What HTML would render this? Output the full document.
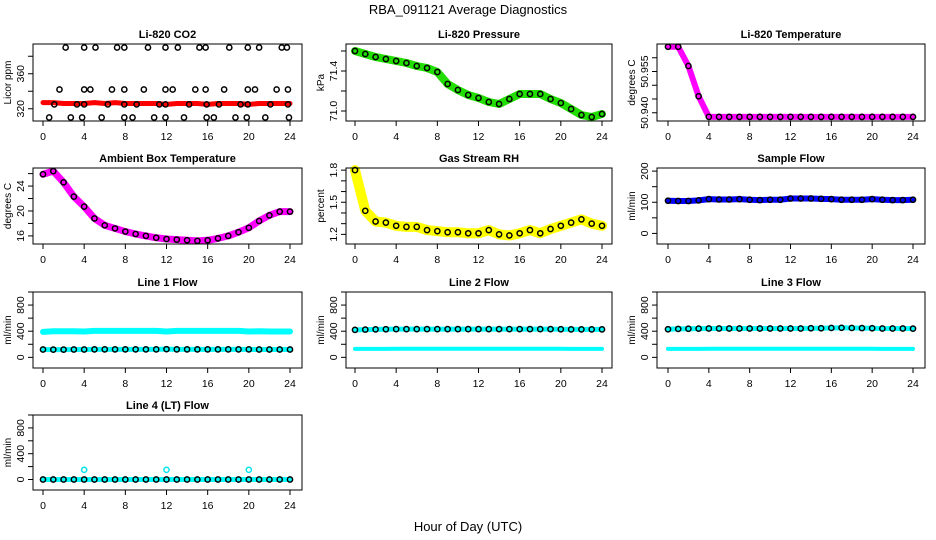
<!DOCTYPE html>
<html><head><meta charset="utf-8"><style>
body{margin:0;background:#fff;}
svg{display:block;font-family:"Liberation Sans",Arial,sans-serif;}
</style></head><body>
<svg id="chart" width="936" height="540" viewBox="0 0 936 540" xmlns="http://www.w3.org/2000/svg">
<rect width="936" height="540" fill="#fff"/>
<text x="468" y="14" text-anchor="middle" font-size="13">RBA_091121  Average Diagnostics</text>
<text x="468" y="531" text-anchor="middle" font-size="13">Hour of Day (UTC)</text>
</svg>
<script>
const hours = [0,1,2,3,4,5,6,7,8,9,10,11,12,13,14,15,16,17,18,19,20,21,22,23,24];
const xTicks = [0,4,8,12,16,20,24];
const co2Band = [327,327,326,326,326,327,326,327,326,326,326,326,325,326,326,326,325,326,326,326,325,326,326,326,326];
const co2OutT = [2.2,4.0,5.1,7.2,7.9,10.2,11.9,13.1,15.2,15.8,18.1,19.9,21.0,23.2,23.7, 1.6,4.0,4.6,6.7,7.9,9.8,11.9,12.6,14.8,15.8,17.6,19.9,20.6,22.7,23.8, 1.1,3.3,4.0,6.3,7.9,9.1,11.3,11.9,14.2,15.9,17.1,19.2,19.9,22.1,23.8, 0.6,2.7,3.8,5.7,7.9,8.7,10.8,11.9,13.7,15.9,16.6,18.7,19.8,21.6,23.9];
const co2OutV = [390,390,390,390,390,390,390,390,390,390,390,390,390,390,390, 342,342,342,342,342,342,342,342,342,342,342,342,342,342,342, 325,325,325,325,325,325,325,325,325,325,325,325,325,325,325, 310,310,310,310,310,310,310,310,310,310,310,310,310,310,310];
const pressure = [71.60,71.57,71.54,71.52,71.50,71.48,71.45,71.43,71.39,71.27,71.21,71.16,71.13,71.09,71.07,71.12,71.17,71.17,71.17,71.12,71.08,71.02,70.96,70.94,70.97];
const liTemp = [50.964,50.964,50.957,50.946,50.9385,50.9385,50.9385,50.9385,50.9385,50.9385,50.9385,50.9385,50.9385,50.9385,50.9385,50.9385,50.9385,50.9385,50.9385,50.9385,50.9385,50.9385,50.9385,50.9385,50.9385];
const ambient = [25.9,26.4,24.6,22.3,20.7,18.8,17.7,17.2,16.7,16.3,16.0,15.7,15.5,15.4,15.3,15.2,15.3,15.6,16.0,16.6,17.3,18.4,19.3,19.9,19.9];
const rh = [1.80,1.42,1.32,1.31,1.28,1.27,1.27,1.24,1.23,1.22,1.22,1.21,1.21,1.24,1.20,1.19,1.21,1.24,1.21,1.25,1.28,1.31,1.34,1.30,1.28];
const sampleFlow = [105,104,104,106,110,109,109,110,108,107,108,108,112,112,112,111,110,108,108,108,110,108,107,107,108];
const line1Hi = [390,400,400,400,395,405,405,405,405,405,405,405,395,405,405,405,405,405,405,405,395,400,395,395,395];
const line1Lo = [120,118,118,120,120,122,122,122,122,122,122,122,125,122,122,122,122,122,122,122,122,120,120,120,120];
const line2Hi = [420,425,428,430,432,432,432,432,432,432,432,432,432,432,432,432,432,432,432,432,430,428,428,428,428];
const line2Lo = [130,130,130,130,132,132,132,132,132,132,132,132,132,132,132,132,132,132,132,132,132,130,130,130,130];
const line3Hi = [430,435,438,440,442,442,442,442,442,442,442,442,442,442,445,445,450,452,450,448,445,442,442,442,440];
const line3Lo = [130,130,130,130,132,132,132,132,132,132,132,132,132,132,132,132,132,132,132,132,132,130,130,130,130];
const line4 = [0,0,0,0,0,0,0,0,0,0,0,0,0,0,0,0,0,0,0,0,0,0,0,0,0];
const line4OutT = [4,12,20];
const line4OutV = [150,150,150];

const NS = "http://www.w3.org/2000/svg";
const svg = document.getElementById('chart');
function el(tag, attrs, parent){const e=document.createElementNS(NS,tag);for(const k in attrs)e.setAttribute(k,attrs[k]);(parent||svg).appendChild(e);return e;}

const cols=[{l:33,r:302,x0:43,x1:290},{l:346,r:612,x0:355,x1:602},{l:657,r:925,x0:668,x1:913}];
const rows=[{t:44,b:121},{t:168,b:244},{t:292,b:368},{t:415,b:490}];

function panel(ci,ri,cfg){
  const c=cols[ci],r=rows[ri];
  const g=el('g',{});
  
  
  const X=t=>c.x0+(c.x1-c.x0)*t/24;
  const Y=v=>r.b-(v-cfg.ymin)/(cfg.ymax-cfg.ymin)*(r.b-r.t);
  const title=el('text',{x:(c.l+c.r)/2,y:r.t-6,'text-anchor':'middle','font-size':11,'font-weight':'bold'},g);
  title.textContent=cfg.title;
  
  
  cfg.series.forEach(s=>{
    const sg=el('g',{},g);
    
    
    const ts=s.t||hours;
    if(s.band){
      el('polyline',{points:ts.map((t,i)=>X(t)+','+Y(s.v[i])).join(' '),fill:'none',stroke:s.color,'stroke-width':s.band,'stroke-linejoin':'round','stroke-linecap':'round'},sg);
    }
    if(s.pts){
      ts.forEach((t,i)=>{
        const p=el('circle',{cx:X(t),cy:Y(s.v[i]),r:2.6,fill:'none',stroke:s.pts,'stroke-width':1.5},sg);
        
        
      });
    }
  });
  el('rect',{x:c.l,y:r.t,width:c.r-c.l,height:r.b-r.t,fill:'none',stroke:'#000','stroke-width':1},g);
  const xa=el('g',{},g);
  
  
  xTicks.forEach(t=>{
    el('line',{x1:X(t),x2:X(t),y1:r.b,y2:r.b+5,stroke:'#000'},xa);
    const tx=el('text',{x:X(t),y:r.b+19,'text-anchor':'middle','font-size':10.5},xa);
    tx.textContent=t;
  });
  const ya=el('g',{},g);
  
  
  cfg.yticks.forEach(v=>{
    el('line',{x1:c.l-5,x2:c.l,y1:Y(v),y2:Y(v),stroke:'#000'},ya);
  });
  cfg.ylabels.forEach((v,i)=>{
    const tx=el('text',{x:0,y:0,'text-anchor':'middle','font-size':10.5,transform:`translate(${c.l-9},${Y(v)}) rotate(-90)`},ya);
    tx.textContent=cfg.ylabelText[i];
  });
  const yt=el('text',{x:0,y:0,'text-anchor':'middle','font-size':10,transform:`translate(${c.l-22},${(r.t+r.b)/2}) rotate(-90)`},g);
  yt.textContent=cfg.ylab;
  
  
}

const flowTicks=[0,200,400,600,800,1000];
panel(0,0,{name:'co2',title:'Li-820 CO2',ylab:'Licor ppm',ymin:306,ymax:394,yticks:[320,340,360,380],ylabels:[320,360],ylabelText:['320','360'],
  series:[{name:'co2-band',v:co2Band,color:'#ff0000',band:5},{name:'co2-outliers',t:co2OutT,v:co2OutV,pts:'#000'}]});
panel(1,0,{name:'pressure',title:'Li-820 Pressure',ylab:'kPa',ymin:70.9,ymax:71.67,yticks:[71.0,71.2,71.4,71.6],ylabels:[71.0,71.4],ylabelText:['71.0','71.4'],
  series:[{name:'pressure-series',v:pressure,color:'#22dd00',band:8,pts:'#000'}]});
panel(2,0,{name:'li-temp',title:'Li-820 Temperature',ylab:'degrees C',ymin:50.937,ymax:50.965,yticks:[50.940,50.945,50.950,50.955,50.960],ylabels:[50.940,50.955],ylabelText:['50.940','50.955'],
  series:[{name:'li-temp-series',v:liTemp,color:'#ff00ff',band:6,pts:'#000'}]});
panel(0,1,{name:'ambient',title:'Ambient Box Temperature',ylab:'degrees C',ymin:14.7,ymax:26.9,yticks:[16,18,20,22,24,26],ylabels:[16,20,24],ylabelText:['16','20','24'],
  series:[{name:'ambient-series',v:ambient,color:'#ff00ff',band:7,pts:'#000'}]});
panel(1,1,{name:'rh',title:'Gas Stream RH',ylab:'percent',ymin:1.11,ymax:1.82,yticks:[1.2,1.3,1.4,1.5,1.6,1.7,1.8],ylabels:[1.2,1.5,1.8],ylabelText:['1.2','1.5','1.8'],
  series:[{name:'rh-series',v:rh,color:'#ffff00',band:10,pts:'#000'}]});
panel(2,1,{name:'sample-flow',title:'Sample Flow',ylab:'ml/min',ymin:-34,ymax:210,yticks:[0,50,100,150,200],ylabels:[0,100,200],ylabelText:['0','100','200'],
  series:[{name:'sample-flow-series',v:sampleFlow,color:'#0000ff',band:6,pts:'#000'}]});
panel(0,2,{name:'line1',title:'Line 1 Flow',ylab:'ml/min',ymin:-163,ymax:1000,yticks:flowTicks,ylabels:[0,400,800],ylabelText:['0','400','800'],
  series:[{name:'line1-high',v:line1Hi,color:'#00ffff',band:6},{name:'line1-low',v:line1Lo,color:'#00ffff',band:5,pts:'#000'}]});
panel(1,2,{name:'line2',title:'Line 2 Flow',ylab:'ml/min',ymin:-163,ymax:1000,yticks:flowTicks,ylabels:[0,400,800],ylabelText:['0','400','800'],
  series:[{name:'line2-low',v:line2Lo,color:'#00ffff',band:4},{name:'line2-high',v:line2Hi,color:'#00ffff',band:5,pts:'#000'}]});
panel(2,2,{name:'line3',title:'Line 3 Flow',ylab:'ml/min',ymin:-163,ymax:1000,yticks:flowTicks,ylabels:[0,400,800],ylabelText:['0','400','800'],
  series:[{name:'line3-low',v:line3Lo,color:'#00ffff',band:4},{name:'line3-high',v:line3Hi,color:'#00ffff',band:5,pts:'#000'}]});
panel(0,3,{name:'line4',title:'Line 4 (LT) Flow',ylab:'ml/min',ymin:-163,ymax:1000,yticks:flowTicks,ylabels:[0,400,800],ylabelText:['0','400','800'],
  series:[{name:'line4-series',v:line4,color:'#00ffff',band:5,pts:'#000'},{name:'line4-outliers',t:line4OutT,v:line4OutV,pts:'#00e5ee'}]});
</script>
</body></html>
